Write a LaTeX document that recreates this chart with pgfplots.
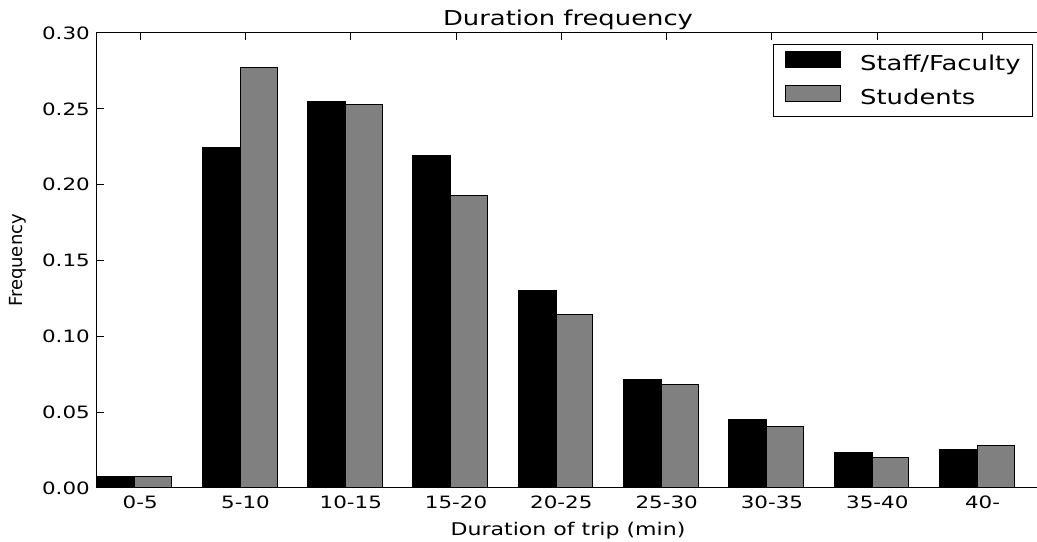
\documentclass[border=0pt]{standalone}
\usepackage{fontspec}
\setmainfont{DejaVu Sans}[FakeStretch=1.26]
\newfontfamily\plainsans{DejaVu Sans}
\usepackage{pgfplots}
\pgfplotsset{compat=1.18}

\definecolor{mplgray}{HTML}{808080}

\newcommand{\tickfont}{\fontsize{17}{20}\selectfont}
\newcommand{\bigfont}{\fontsize{20.5}{24}\selectfont}

\pgfplotsset{
  patchlegend/.style={legend image code/.code={%
    \draw[##1] (0pt,-1.7pt) rectangle (55pt,14.3pt); \path (74pt,0pt);}}
}

\begin{document}
\begin{tikzpicture}
\begin{axis}[
  name=ax,
  scale only axis,
  width=950pt, height=455pt,
  xmin=-0.41, xmax=8.612,
  ymin=0, ymax=0.30,
  ybar,
  axis line style={line width=1pt},
  tick style={line width=1pt, black},
  tick align=inside,
  major tick length=7pt,
  xtick={0,...,8},
  xticklabels={0-5,5-10,10-15,15-20,20-25,25-30,30-35,35-40,40-},
  ytick={0,0.05,0.10,0.15,0.20,0.25,0.30},
  scaled y ticks=false,
  /pgf/number format/assume math mode=true,
  yticklabel style={/pgf/number format/fixed, /pgf/number format/fixed zerofill, /pgf/number format/precision=2},
  tick label style={font=\tickfont},
  xticklabel style={anchor=base, inner sep=0pt, yshift=-20.5pt},
  y tick label style={anchor=east, inner sep=0pt, xshift=-7pt},
  title={Duration frequency},
  every axis title shift=0pt,
  title style={at={(axis description cs:0.4958,1)}, anchor=base, yshift=7pt, font=\bigfont},
  xlabel={Duration of trip (min)},
  xlabel style={at={(axis description cs:0.4958,0)}, anchor=base, yshift=-48pt, font=\fontsize{17.5}{20}\selectfont},
  ylabel={Frequency},
  ylabel style={at={(axis description cs:-0.0789,0.5)}, anchor=base, font=\plainsans\fontsize{18}{21}\selectfont},
  legend cell align=left,
  legend style={at={(axis description cs:0.9853,0.9758)}, anchor=north east,
    draw=black, line width=1pt, font=\bigfont,
    inner xsep=12pt, inner ysep=6.6pt, row sep=9.2pt,
    nodes={inner sep=0pt, text height=15pt, text depth=5pt}},
]
\addplot[fill=black, draw=black, line width=1pt, bar width=0.36, bar shift=-0.23, patchlegend]
  coordinates {(0,0.0077) (1,0.2245) (2,0.2548) (3,0.2190) (4,0.1305)
               (5,0.0718) (6,0.0449) (7,0.0231) (8,0.0253)};
\addlegendentry{Staff/Faculty}
\addplot[fill=mplgray, draw=black, line width=1pt, bar width=0.35, bar shift=0.125, patchlegend]
  coordinates {(0,0.0077) (1,0.2771) (2,0.2527) (3,0.1928) (4,0.1145)
               (5,0.0683) (6,0.0405) (7,0.0201) (8,0.0280)};
\addlegendentry{Students}
\end{axis}
\pgfresetboundingbox
\path[use as bounding box] ([xshift=-97pt,yshift=-54pt]ax.south west) rectangle ([xshift=-10pt,yshift=33pt]ax.north east);
\end{tikzpicture}
\end{document}
